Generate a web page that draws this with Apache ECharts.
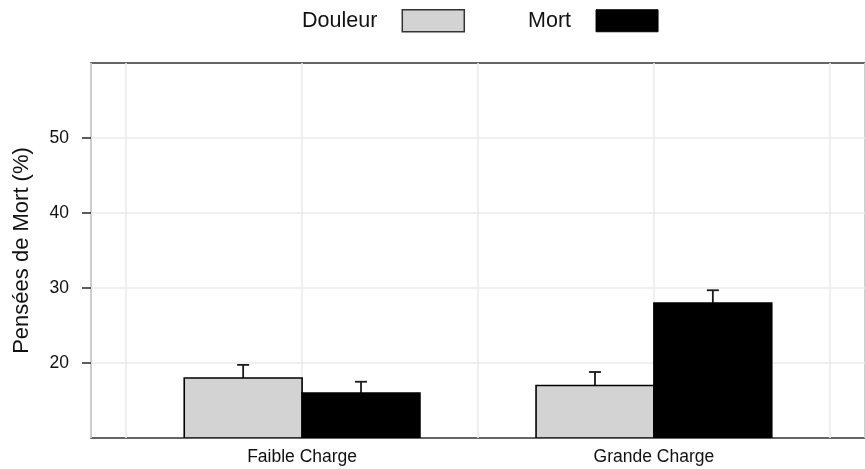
<!DOCTYPE html>
<html>
<head>
<meta charset="utf-8">
<script src="https://cdn.jsdelivr.net/npm/echarts@6/dist/echarts.min.js"></script>
<style>
html,body{margin:0;padding:0;background:#fff;}
#chart{width:865px;height:469px;}
</style>
</head>
<body>
<div id="chart"></div>
<script>
// ---- data ----
var categories = ['Faible Charge', 'Grande Charge'];
var seriesNames = ['Douleur', 'Mort'];
var douleurValues = [18, 17];
var douleurSE = [1.75, 1.8];
var mortValues = [16, 28];
var mortSE = [1.5, 1.7];
var yTicks = [20, 30, 40, 50];
var xTickPositions = [1, 2];

// ---- style constants ----
var Y_MIN = 10, Y_MAX = 60;
var BAR_W = 0.335;
var CAP_HALF = 6;
var TEXT = '#111';
var FONT = 'Liberation Sans, Arial, sans-serif';

function makeData(vals, se) {
  return vals.map(function (v, i) { return [xTickPositions[i], v, se[i]]; });
}

function barRenderer(side, fill) {
  return function (params, api) {
    var x = api.value(0), v = api.value(1), se = api.value(2);
    var x0 = side < 0 ? x - BAR_W : x;
    var x1 = side < 0 ? x : x + BAR_W;
    var pTL = api.coord([x0, v]);
    var pBR = api.coord([x1, Y_MIN]);
    var cx = (api.coord([(x0 + x1) / 2, v]))[0];
    var pTop = api.coord([(x0 + x1) / 2, v + se]);
    return {
      type: 'group',
      children: [
        {
          type: 'line',
          shape: { x1: cx, y1: pTL[1], x2: cx, y2: pTop[1] },
          style: { stroke: '#1a1a1a', lineWidth: 1.8 }
        },
        {
          type: 'line',
          shape: { x1: cx - CAP_HALF, y1: pTop[1], x2: cx + CAP_HALF, y2: pTop[1] },
          style: { stroke: '#1a1a1a', lineWidth: 1.8 }
        },
        {
          type: 'rect',
          shape: { x: pTL[0], y: pTL[1], width: pBR[0] - pTL[0], height: pBR[1] - pTL[1] },
          style: { fill: fill, stroke: '#000', lineWidth: 1.6 }
        }
      ]
    };
  };
}

var chart = echarts.init(document.getElementById('chart'), null, { renderer: 'canvas' });
chart.setOption({
  animation: false,
  backgroundColor: '#fff',
  textStyle: { fontFamily: FONT },
  legend: {
    left: 302,
    top: 9,
    padding: 0,
    align: 'right',
    itemWidth: 62,
    itemHeight: 22,
    itemGap: 63,
    icon: 'rect',
    selectedMode: false,
    textStyle: { fontSize: 21.5, color: TEXT, fontFamily: FONT, padding: [0, 20, 0, 0] },
    data: [
      { name: seriesNames[0], itemStyle: { color: '#d3d3d3', borderColor: '#333', borderWidth: 1.5 } },
      { name: seriesNames[1], itemStyle: { color: '#000', borderColor: '#000', borderWidth: 1 } }
    ]
  },
  grid: {
    left: 91, right: -1, top: 63, bottom: 31,
    show: true, borderColor: '#333', borderWidth: 1.6, backgroundColor: 'transparent'
  },
  xAxis: {
    type: 'value',
    min: 0.4, max: 2.6,
    splitNumber: 5,
    axisLine: { show: false },
    axisTick: { show: false },
    splitLine: { show: true, lineStyle: { color: '#ebebeb', width: 1.6 } },
    axisLabel: {
      customValues: xTickPositions,
      formatter: function (v) { return categories[Math.round(v) - 1] || ''; },
      fontSize: 17.5, color: TEXT, fontFamily: FONT, margin: 10
    }
  },
  yAxis: {
    type: 'value',
    min: Y_MIN, max: Y_MAX, interval: 10,
    name: 'Pensées de Mort (%)',
    nameLocation: 'middle',
    nameGap: 58,
    nameTextStyle: { fontSize: 22, color: TEXT, fontFamily: FONT },
    axisLine: { show: false },
    axisTick: { show: true, customValues: yTicks, length: 9, lineStyle: { color: '#333', width: 1.6 } },
    splitLine: { show: true, lineStyle: { color: '#ebebeb', width: 1.6 } },
    axisLabel: { customValues: yTicks, fontSize: 17.5, color: TEXT, fontFamily: FONT, margin: 22 }
  },
  series: [
    {
      name: seriesNames[0],
      type: 'custom',
      clip: true,
      itemStyle: { color: '#d3d3d3', borderColor: '#333' },
      renderItem: barRenderer(-1, '#d3d3d3'),
      encode: { x: 0, y: 1 },
      data: makeData(douleurValues, douleurSE),
      z: 3
    },
    {
      name: seriesNames[1],
      type: 'custom',
      clip: true,
      itemStyle: { color: '#000' },
      renderItem: barRenderer(1, '#000'),
      encode: { x: 0, y: 1 },
      data: makeData(mortValues, mortSE),
      z: 3
    }
  ]
});
</script>
</body>
</html>
